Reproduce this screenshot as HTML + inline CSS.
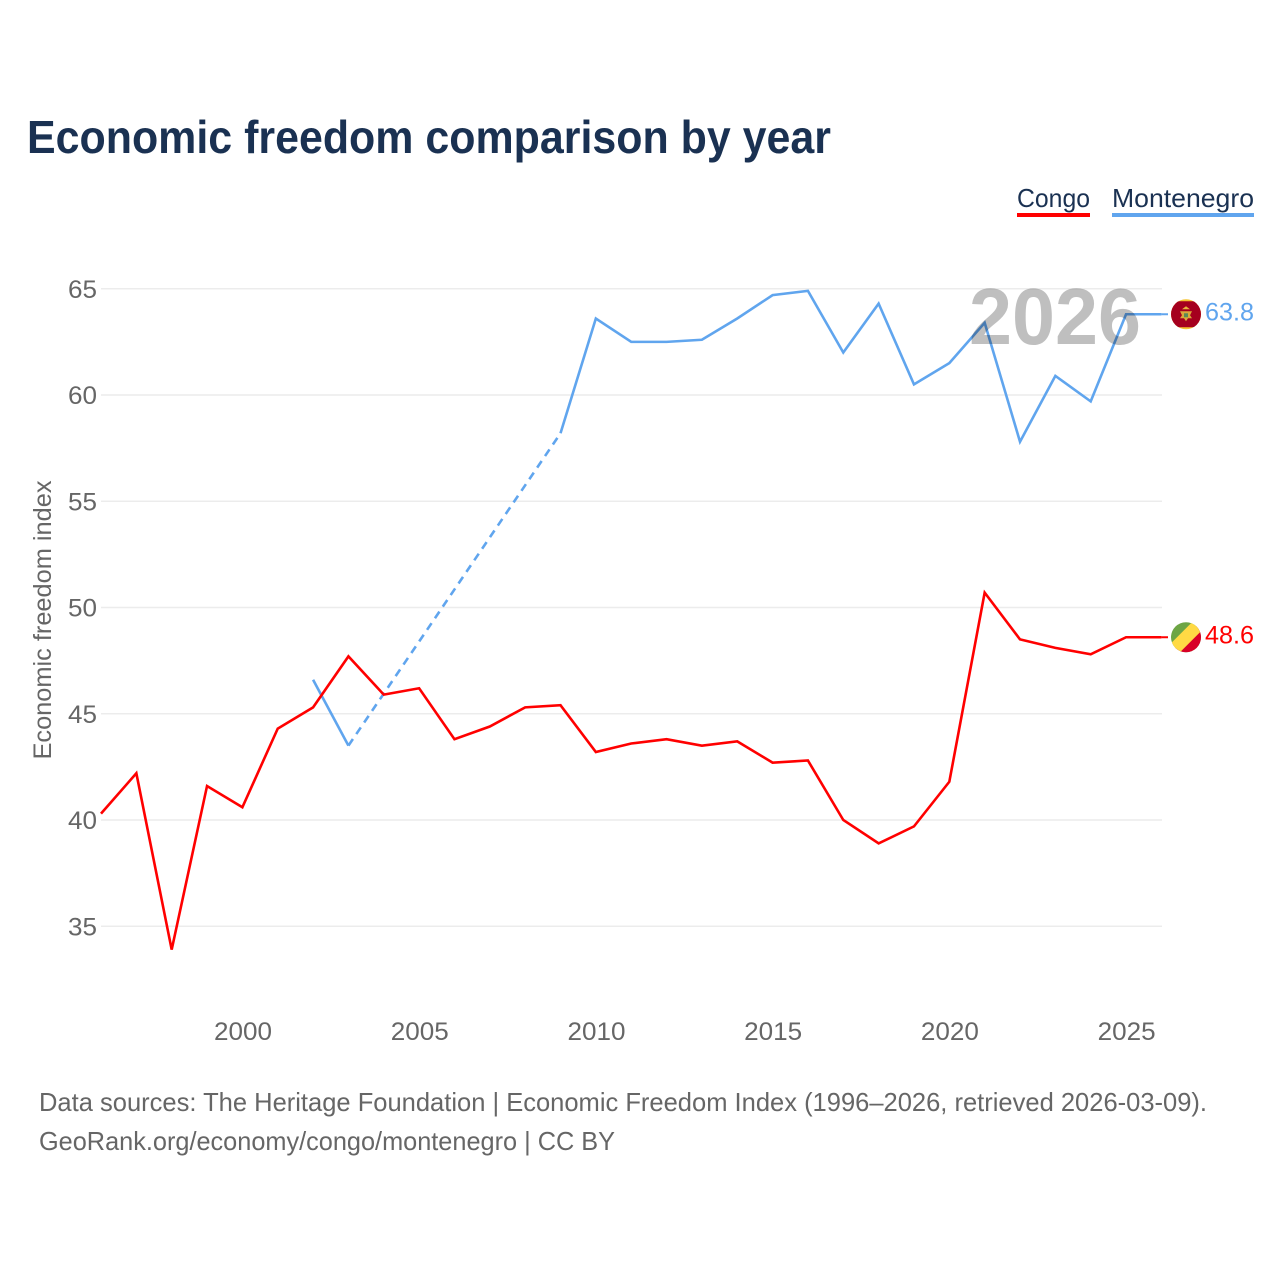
<!DOCTYPE html>
<html lang="en">
<head>
<meta charset="utf-8">
<title>Economic freedom comparison by year</title>
<style>
  html, body { margin: 0; padding: 0; background: #fff; }
  body { width: 1280px; height: 1280px; overflow: hidden; }
  svg { display: block; font-family: "Liberation Sans", sans-serif; }
</style>
</head>
<body>
<svg id="chart" xmlns="http://www.w3.org/2000/svg" width="1280" height="1280" viewBox="0 0 1280 1280">
  <rect x="0" y="0" width="1280" height="1280" fill="#ffffff"/>
  <text x="27" y="153" font-size="46" font-weight="700" fill="#1a3152" textLength="804" lengthAdjust="spacingAndGlyphs">Economic freedom comparison by year</text>

  <g>
    <text x="1017" y="207" font-size="26" fill="#1a3152" textLength="73" lengthAdjust="spacingAndGlyphs">Congo</text>
    <rect x="1017" y="213" width="73" height="4" fill="#ff0000"/>
  </g>
  <g>
    <text x="1112" y="207" font-size="26" fill="#1a3152" textLength="142" lengthAdjust="spacingAndGlyphs">Montenegro</text>
    <rect x="1112" y="213" width="142" height="4" fill="#60a5ee"/>
  </g>

  <g id="grid"></g>
  <g id="yticks"></g>
  <g id="xticks"></g>
  <text transform="translate(51 620) rotate(-90)" text-anchor="middle" font-size="25" fill="#666666" textLength="279" lengthAdjust="spacingAndGlyphs">Economic freedom index</text>

  <g id="series"></g>

  <text x="969" y="344" font-size="80" font-weight="700" fill="#000000" fill-opacity="0.25" textLength="172" lengthAdjust="spacingAndGlyphs">2026</text>

  <defs>
    <clipPath id="flag-clip-me"><circle id="clip-me" cx="1186" cy="314" r="15"/></clipPath>
    <clipPath id="flag-clip-cg"><circle id="clip-cg" cx="1186" cy="636" r="15"/></clipPath>
  </defs>

  <g id="flag-me" clip-path="url(#flag-clip-me)"></g>
  <g id="flag-cg" clip-path="url(#flag-clip-cg)"></g>

  <text id="value-me" x="1205" font-size="25" fill="#60a5ee" textLength="49" lengthAdjust="spacingAndGlyphs"></text>
  <text id="value-cg" x="1205" font-size="25" fill="#ff0000" textLength="49" lengthAdjust="spacingAndGlyphs"></text>

  <g>
    <text x="39" y="1111" font-size="26" fill="#666666" textLength="1168" lengthAdjust="spacingAndGlyphs">Data sources: The Heritage Foundation | Economic Freedom Index (1996–2026, retrieved 2026-03-09).</text>
    <text x="39" y="1150" font-size="26" fill="#666666" textLength="576" lengthAdjust="spacingAndGlyphs">GeoRank.org/economy/congo/montenegro | CC BY</text>
  </g>
</svg>
<script>
const years = [1996,1997,1998,1999,2000,2001,2002,2003,2004,2005,2006,2007,2008,2009,2010,2011,2012,2013,2014,2015,2016,2017,2018,2019,2020,2021,2022,2023,2024,2025,2026];
const congoValues = [40.3,42.2,33.9,41.6,40.6,44.3,45.3,47.7,45.9,46.2,43.8,44.4,45.3,45.4,43.2,43.6,43.8,43.5,43.7,42.7,42.8,40.0,38.9,39.7,41.8,50.7,48.5,48.1,47.8,48.6,48.6];
const montenegroValues = [null,null,null,null,null,null,46.6,43.5,null,null,null,null,null,58.2,63.6,62.5,62.5,62.6,63.6,64.7,64.9,62.0,64.3,60.5,61.5,63.4,57.8,60.9,59.7,63.8,63.8];
const yTickValues = [35,40,45,50,55,60,65];
const xTickValues = [2000,2005,2010,2015,2020,2025];

const NS = 'http://www.w3.org/2000/svg';
const xOf = function (yr) { return 101 + (yr - 1996) * (1161.4 - 101) / 30; };
const yOf = function (v) { return 820 - (v - 40) * 21.25; };
const pathFrom = function (pts) {
  return pts.map(function (p, i) { return (i ? 'L' : 'M') + p[0].toFixed(2) + ' ' + p[1].toFixed(2); }).join(' ');
};
const grid = document.getElementById('grid');
const yticks = document.getElementById('yticks');
const xticks = document.getElementById('xticks');
const series = document.getElementById('series');

yTickValues.forEach(function (v) {
  const line = document.createElementNS(NS, 'line');
  
  
  line.setAttribute('x1', 101);
  line.setAttribute('x2', 1162);
  line.setAttribute('y1', yOf(v));
  line.setAttribute('y2', yOf(v));
  line.setAttribute('stroke', '#ececec');
  line.setAttribute('stroke-width', '1.5');
  grid.appendChild(line);

  const t = document.createElementNS(NS, 'text');
  
  
  t.setAttribute('x', 97);
  t.setAttribute('y', yOf(v) + 9);
  t.setAttribute('text-anchor', 'end');
  t.setAttribute('font-size', '25');
  t.setAttribute('fill', '#666666');
  t.setAttribute('textLength', '29');
  t.setAttribute('lengthAdjust', 'spacingAndGlyphs');
  t.textContent = v;
  yticks.appendChild(t);
});

xTickValues.forEach(function (yr) {
  const t = document.createElementNS(NS, 'text');
  
  
  t.setAttribute('x', xOf(yr) + 0.6);
  t.setAttribute('y', 1040);
  t.setAttribute('text-anchor', 'middle');
  t.setAttribute('font-size', '25');
  t.setAttribute('fill', '#666666');
  t.setAttribute('textLength', '58');
  t.setAttribute('lengthAdjust', 'spacingAndGlyphs');
  t.textContent = yr;
  xticks.appendChild(t);
});

/* Split a series into solid runs and dashed bridges across missing years */
const segmentsOf = function (values) {
  const out = [];
  let run = [];
  let lastPt = null;
  let gap = false;
  values.forEach(function (v, i) {
    if (v === null) {
      if (lastPt) {
        gap = true;
        if (run.length > 1) out.push({ dashed: false, pts: run });
        run = [];
      }
      return;
    }
    const p = [xOf(years[i]), yOf(v)];
    if (gap) {
      out.push({ dashed: true, pts: [lastPt, p] });
      gap = false;
    }
    run.push(p);
    lastPt = p;
  });
  if (run.length > 1) out.push({ dashed: false, pts: run });
  return out;
};

const LEADER_END = 1168;

segmentsOf(montenegroValues).forEach(function (s) {
  const el = document.createElementNS(NS, 'path');
  
  
  el.setAttribute('d', pathFrom(s.pts));
  el.setAttribute('fill', 'none');
  el.setAttribute('stroke', '#60a5ee');
  el.setAttribute('stroke-width', '2.6');
  if (s.dashed) el.setAttribute('stroke-dasharray', '8 6');
  series.appendChild(el);
});

segmentsOf(congoValues).forEach(function (s) {
  const el = document.createElementNS(NS, 'path');
  
  
  el.setAttribute('d', pathFrom(s.pts));
  el.setAttribute('fill', 'none');
  el.setAttribute('stroke', '#ff0000');
  el.setAttribute('stroke-width', '2.6');
  series.appendChild(el);
});

const lastMe = montenegroValues[montenegroValues.length - 1];
const lastCg = congoValues[congoValues.length - 1];

const leaderMe = document.createElementNS(NS, 'line');


leaderMe.setAttribute('x1', xOf(2026));
leaderMe.setAttribute('x2', LEADER_END);
leaderMe.setAttribute('y1', yOf(lastMe));
leaderMe.setAttribute('y2', yOf(lastMe));
leaderMe.setAttribute('stroke', '#60a5ee');
leaderMe.setAttribute('stroke-width', '2');
series.appendChild(leaderMe);

const leaderCg = document.createElementNS(NS, 'line');


leaderCg.setAttribute('x1', xOf(2026));
leaderCg.setAttribute('x2', LEADER_END);
leaderCg.setAttribute('y1', yOf(lastCg));
leaderCg.setAttribute('y2', yOf(lastCg));
leaderCg.setAttribute('stroke', '#ff0000');
leaderCg.setAttribute('stroke-width', '2');
series.appendChild(leaderCg);

const valueMe = document.getElementById('value-me');
valueMe.textContent = lastMe.toFixed(1);
valueMe.setAttribute('y', yOf(lastMe) + 6);
const valueCg = document.getElementById('value-cg');
valueCg.textContent = lastCg.toFixed(1);
valueCg.setAttribute('y', yOf(lastCg) + 6);

/* Flags follow the end values */
const cyMe = yOf(lastMe);
const cyCg = yOf(lastCg);
const cx = 1186;
document.getElementById('clip-me').setAttribute('cy', cyMe);
document.getElementById('clip-cg').setAttribute('cy', cyCg);

document.getElementById('flag-me').innerHTML =
  '<rect x="' + (cx - 16) + '" y="' + (cyMe - 16) + '" width="32" height="32" fill="#f5c431"/>' +
  '<rect x="' + (cx - 16) + '" y="' + (cyMe - 13) + '" width="32" height="26" fill="#a5001e"/>' +
  '<path d="M' + (cx - 4) + ' ' + (cyMe - 5) + ' l4 -3 l4 3 z" fill="#e8b53a"/>' +
  '<path d="M' + (cx - 6) + ' ' + (cyMe - 3) + ' h12 l-2 4 l2 3 h-4 l-2 3 l-2 -3 h-4 l2 -3 z" fill="#d9a93a"/>' +
  '<rect x="' + (cx - 2) + '" y="' + (cyMe - 1) + '" width="4" height="4" fill="#5b8a57"/>';

document.getElementById('flag-cg').innerHTML =
  '<rect x="' + (cx - 16) + '" y="' + (cyCg - 16) + '" width="32" height="32" fill="#6da544"/>' +
  '<path d="M' + (cx + 16) + ' ' + (cyCg - 16) + ' V' + (cyCg + 16) + ' H' + (cx - 16) + ' z" fill="#d80027"/>' +
  '<path d="M' + (cx + 7) + ' ' + (cyCg - 16) + ' H' + (cx + 16) + ' V' + (cyCg - 7) + ' L' + (cx - 7) + ' ' + (cyCg + 16) + ' H' + (cx - 16) + ' V' + (cyCg + 7) + ' z" fill="#ffda44"/>';
</script>
</body>
</html>
